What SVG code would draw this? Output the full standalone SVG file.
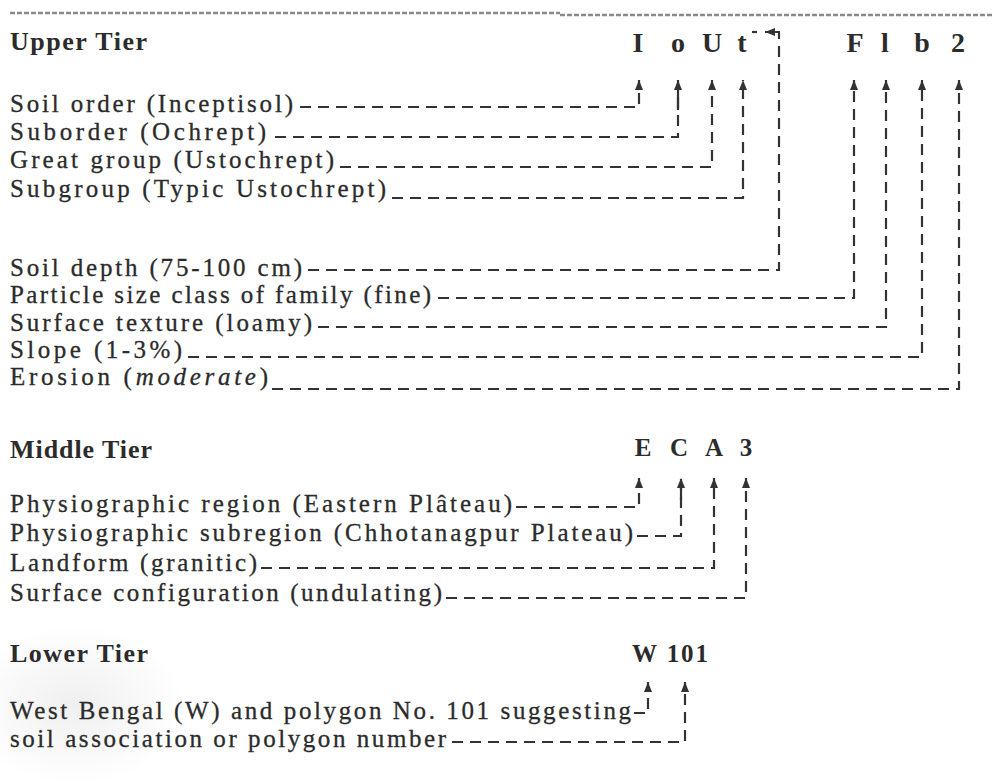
<svg xmlns="http://www.w3.org/2000/svg" width="992" height="784" viewBox="0 0 992 784">
<defs>
<style>
.lbl{font-family:"Liberation Serif","Times New Roman",serif;font-size:25px;fill:#2b2b2b;stroke:#2b2b2b;stroke-width:0.3}
.hd{font-family:"Liberation Serif","Times New Roman",serif;font-size:26px;font-weight:bold;fill:#2b2b2b}
.code{font-family:"Liberation Serif","Times New Roman",serif;font-size:28px;font-weight:bold;fill:#2b2b2b;text-anchor:middle}
.code2{font-family:"Liberation Serif","Times New Roman",serif;font-size:25px;font-weight:bold;fill:#2b2b2b;text-anchor:middle}
.ln{fill:none;stroke:#333;stroke-width:2.2;stroke-dasharray:11 7}
.sol{fill:none;stroke:#333;stroke-width:2.2}
.top{fill:none;stroke:#8a8a8a;stroke-width:2.5;stroke-dasharray:5 2}
</style>
<marker id="ah" markerUnits="userSpaceOnUse" viewBox="0 0 10 8" refX="10" refY="4" markerWidth="10" markerHeight="8" orient="auto">
<path d="M0,0 L10,4 L0,8 z" fill="#333"/>
</marker>
<radialGradient id="smudge" cx="0.5" cy="0.5" r="0.5">
<stop offset="0" stop-color="#dcdcdc" stop-opacity="0.45"/>
<stop offset="1" stop-color="#dcdcdc" stop-opacity="0"/>
</radialGradient>
</defs>
<rect width="992" height="784" fill="#fff"/>
<ellipse cx="75" cy="705" rx="110" ry="80" fill="url(#smudge)"/>

<g id="rule">
<path class="top" d="M10,13 H560"/>
<path class="top" d="M560,15 H992"/>
</g>

<g id="upper-tier">
<text class="hd" x="10" y="50" textLength="137" lengthAdjust="spacing">Upper Tier</text>
</g>
<g id="upper-code">
<text class="code" x="638" y="52">I</text>
<text class="code" x="678" y="52">o</text>
<text class="code" x="712" y="52">U</text>
<text class="code" x="742" y="52">t</text>
<text class="code" x="855" y="52">F</text>
<text class="code" x="885" y="52">l</text>
<text class="code" x="922" y="52">b</text>
<text class="code" x="958" y="52">2</text>
</g>

<g id="soil-order"><text class="lbl" x="10" y="112" textLength="283" lengthAdjust="spacing">Soil order (Inceptisol)</text></g>
<g id="suborder"><text class="lbl" x="10" y="140" textLength="256" lengthAdjust="spacing">Suborder (Ochrept)</text></g>
<g id="great-group"><text class="lbl" x="10" y="168" textLength="324" lengthAdjust="spacing">Great group (Ustochrept)</text></g>
<g id="subgroup"><text class="lbl" x="10" y="197" textLength="376" lengthAdjust="spacing">Subgroup (Typic Ustochrept)</text></g>
<g id="soil-depth"><text class="lbl" x="10" y="276" textLength="292" lengthAdjust="spacing">Soil depth (75-100 cm)</text></g>
<g id="particle-size"><text class="lbl" x="10" y="303" textLength="421" lengthAdjust="spacing">Particle size class of family (fine)</text></g>
<g id="surface-texture"><text class="lbl" x="10" y="331" textLength="302" lengthAdjust="spacing">Surface texture (loamy)</text></g>
<g id="slope"><text class="lbl" x="10" y="358" textLength="172" lengthAdjust="spacing">Slope (1-3%)</text></g>
<g id="erosion"><text class="lbl" x="10" y="385" textLength="258" lengthAdjust="spacing">Erosion (<tspan font-style="italic">moderate</tspan>)</text></g>

<g id="middle-tier">
<text class="hd" x="10" y="458" textLength="142" lengthAdjust="spacing">Middle Tier</text>
</g>
<g id="middle-code">
<text class="code2" x="643" y="456">E</text>
<text class="code2" x="679" y="456">C</text>
<text class="code2" x="714" y="456">A</text>
<text class="code2" x="746" y="456">3</text>
</g>
<g id="phys-region"><text class="lbl" x="10" y="512" textLength="502" lengthAdjust="spacing">Physiographic region (Eastern Plâteau)</text></g>
<g id="phys-subregion"><text class="lbl" x="10" y="541" textLength="623" lengthAdjust="spacing">Physiographic subregion (Chhotanagpur Plateau)</text></g>
<g id="landform"><text class="lbl" x="10" y="571" textLength="247" lengthAdjust="spacing">Landform (granitic)</text></g>
<g id="surface-config"><text class="lbl" x="10" y="601" textLength="432" lengthAdjust="spacing">Surface configuration (undulating)</text></g>

<g id="lower-tier">
<text class="hd" x="10" y="662" textLength="138" lengthAdjust="spacing">Lower Tier</text>
</g>
<g id="lower-code">
<text class="code2" x="670" y="662" textLength="76" lengthAdjust="spacing">W 101</text>
</g>
<g id="west-bengal"><text class="lbl" x="10" y="719" textLength="621" lengthAdjust="spacing">West Bengal (W) and polygon No. 101 suggesting</text></g>
<g id="soil-association"><text class="lbl" x="10" y="747" textLength="436" lengthAdjust="spacing">soil association or polygon number</text></g>

<g id="connectors">
<path class="ln" d="M300,107 H639 V80" marker-end="url(#ah)"/>
<path class="ln" d="M275,137 H678 V80" marker-end="url(#ah)"/>
<path class="sol" d="M678,84 V110"/>
<path class="ln" d="M340,167 H712 V80" marker-end="url(#ah)"/>
<path class="ln" d="M392,198 H743 V80" marker-end="url(#ah)"/>
<path class="ln" d="M308,270 H779 V32 H765" marker-end="url(#ah)"/>
<path class="sol" d="M752,32 H757"/>
<path class="ln" d="M438,298 H854 V80" marker-end="url(#ah)"/>
<path class="ln" d="M318,327 H886 V80" marker-end="url(#ah)"/>
<path class="ln" d="M188,357 H922 V80" marker-end="url(#ah)"/>
<path class="ln" d="M272,389 H959 V80" marker-end="url(#ah)"/>

<path class="ln" d="M516,507 H639 V478" marker-end="url(#ah)"/>
<path class="ln" d="M637,536 H681 V478" marker-end="url(#ah)"/>
<path class="sol" d="M681,482 V500"/>
<path class="ln" d="M261,568 H714 V478" marker-end="url(#ah)"/>
<path class="ln" d="M446,598 H746 V478" marker-end="url(#ah)"/>

<path class="ln" d="M634,713 H648 V682" marker-end="url(#ah)"/>
<path class="ln" d="M452,742 H685 V682" marker-end="url(#ah)"/>
</g>
</svg>
